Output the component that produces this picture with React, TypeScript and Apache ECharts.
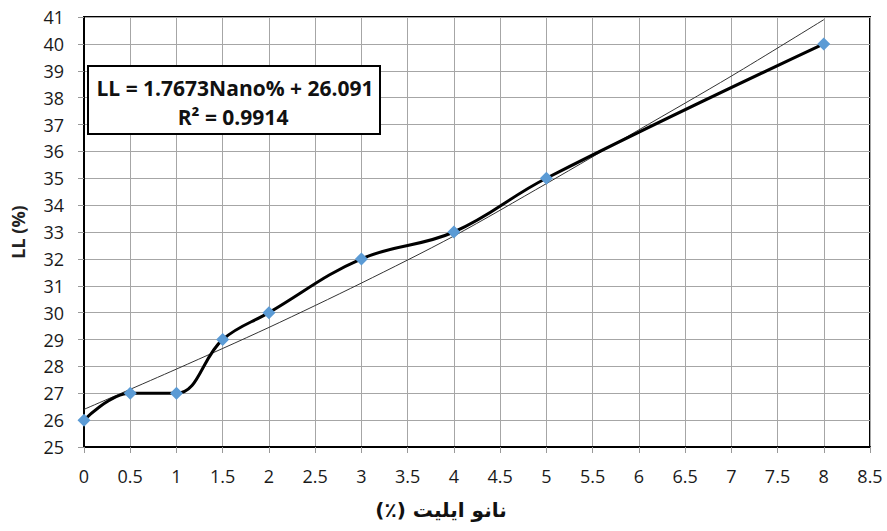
import React, { useEffect, useRef } from "react";
import * as echarts from "echarts";

const nanoPercent = [0, 0.5, 1, 1.5, 2, 3, 4, 5, 8];
const llValues = [26, 27, 27, 29, 30, 32, 33, 35, 40];
const trendX = [0, 1, 2, 3, 4, 5, 6, 7, 8];
const trendY = [26.4, 27.9, 29.45, 31.1, 32.85, 34.8, 36.8, 38.8, 40.9];
const equationLines = ["LL = 1.7673Nano% + 26.091", "R² = 0.9914"];
const xTitle = "نانو ایلیت (٪)";
const yTitle = "LL (%)";

export default function App() {
  const ref = useRef<HTMLDivElement>(null);
  useEffect(() => {
    if (!ref.current) return;
    const chart = echarts.init(ref.current, null, { renderer: "svg" });
    const font = "'Open Sans', 'Noto Sans', sans-serif";
    chart.setOption({
      animation: false,
      backgroundColor: "#ffffff",
      grid: { left: 84, right: 17, top: 17, bottom: 84, show: true, borderColor: "#000", borderWidth: 2 },
      xAxis: {
        type: "value",
        min: 0,
        max: 8.5,
        interval: 0.5,
        axisLine: { show: true, lineStyle: { color: "#000", width: 2 } },
        axisTick: { show: true, length: 6, lineStyle: { color: "#999" } },
        splitLine: { show: true, lineStyle: { color: "#a6a6a6", width: 1 } },
        axisLabel: { color: "#1a1a1a", fontSize: 18, fontFamily: font, margin: 20 },
      },
      yAxis: {
        type: "value",
        min: 25,
        max: 41,
        interval: 1,
        name: yTitle,
        nameLocation: "middle",
        nameGap: 57,
        nameTextStyle: { fontSize: 18, fontWeight: "bold", color: "#222", fontFamily: font },
        axisLine: { show: true, lineStyle: { color: "#000", width: 2 } },
        axisTick: { show: true, length: 6, lineStyle: { color: "#999" } },
        splitLine: { show: true, lineStyle: { color: "#a6a6a6", width: 1 } },
        axisLabel: { color: "#1a1a1a", fontSize: 18, fontFamily: font, margin: 20 },
      },
      series: [
        {
          type: "line",
          data: trendX.map((x, i) => [x, trendY[i]]),
          symbol: "none",
          smooth: 0.3,
          lineStyle: { color: "#333", width: 1 },
          z: 2,
        },
        {
          type: "line",
          data: nanoPercent.map((x, i) => [x, llValues[i]]),
          smooth: 0.4,
          symbol: "diamond",
          symbolSize: 13,
          itemStyle: { color: "#5b9bd5" },
          lineStyle: { color: "#000", width: 3 },
          z: 3,
        },
      ],
      graphic: [
        {
          type: "rect",
          shape: { x: 88, y: 66, width: 292, height: 68 },
          style: { fill: "#fff", stroke: "#000", lineWidth: 2 },
          z: 10,
        },
        {
          type: "text",
          x: 235,
          y: 88,
          style: {
            text: equationLines[0],
            font: `bold 21px ${font}`,
            fill: "#111",
            textAlign: "center",
            textVerticalAlign: "middle",
          },
          z: 11,
        },
        {
          type: "text",
          x: 233,
          y: 117,
          style: {
            text: equationLines[1],
            font: `bold 21px ${font}`,
            fill: "#111",
            textAlign: "center",
            textVerticalAlign: "middle",
          },
          z: 11,
        },
        {
          type: "text",
          x: 441,
          y: 510,
          style: {
            text: xTitle + "\u200F",
            font: `bold 20px 'DejaVu Sans', 'Noto Sans', sans-serif`,
            fill: "#111",
            textAlign: "center",
            textVerticalAlign: "middle",
          },
        },
      ],
    });
    return () => chart.dispose();
  }, []);
  return <div ref={ref} style={{ width: 887, height: 531, position: "absolute", left: 0, top: 0 }} />;
}
